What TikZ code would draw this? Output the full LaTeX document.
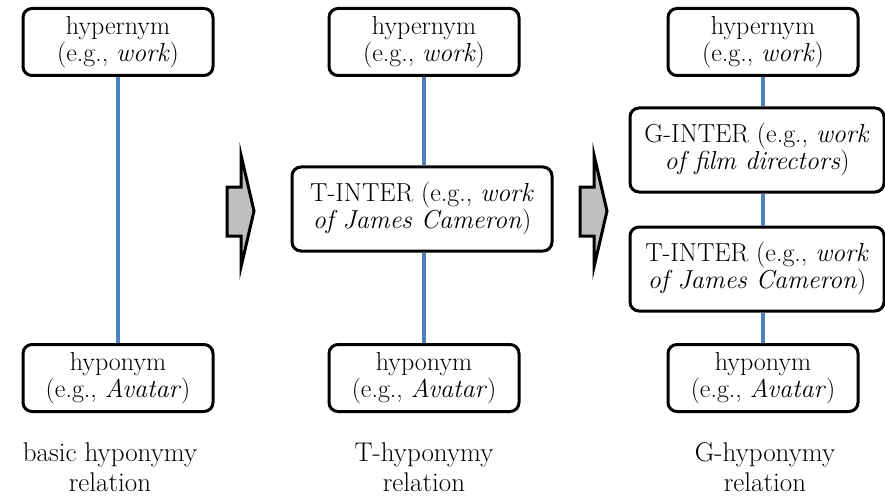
\documentclass[tikz,border=0pt]{standalone}
\usepackage{xcolor}
\usepackage{tikz}
\definecolor{linkblue}{RGB}{79, 129, 189}
\definecolor{arrowgray}{RGB}{191, 191, 191}

\tikzset{
  termbox/.style={draw, line width=3pt, rounded corners=9pt, fill=white,
    align=center, inner sep=0pt, minimum width=190pt, minimum height=67pt,
    font=\fontsize{26}{27}\selectfont},
  interbox/.style={termbox, minimum height=84pt},
  link/.style={linkblue, line width=3.2pt},
  caption/.style={align=center, font=\fontsize{27}{30}\selectfont}
}

\begin{document}
\begin{tikzpicture}[x=1pt, y=-1pt]
\useasboundingbox (0,0) rectangle (885,497);

% basic hyponymy
\node[termbox] (hyper1) at (118,42) {hypernym\\(e.g., \textit{work})};
\node[termbox] (hypo1) at (118,378) {hyponym\\(e.g., \textit{Avatar})};
\node[caption] (cap1) at (110,467) {basic hyponymy\\relation};
\draw[link] (hyper1) -- (hypo1);

% T-hyponymy
\node[termbox] (hyper2) at (424,42) {hypernym\\(e.g., \textit{work})};
\node[interbox, minimum width=260pt] (tinter2) at (422,209) {T-INTER (e.g., \textit{work}\\\textit{of James Cameron})};
\node[termbox] (hypo2) at (424,378) {hyponym\\(e.g., \textit{Avatar})};
\node[caption] (cap2) at (424,467) {T-hyponymy\\relation};
\draw[link] (hyper2) -- (hyper2 |- tinter2.north);
\draw[link] (hyper2 |- tinter2.south) -- (hypo2);

% G-hyponymy
\node[termbox] (hyper3) at (763,42) {hypernym\\(e.g., \textit{work})};
\node[interbox, minimum width=254pt] (ginter3) at (757,150) {G-INTER (e.g., \textit{work}\\\textit{of film directors})};
\node[interbox, minimum width=254pt] (tinter3) at (757,269) {T-INTER (e.g., \textit{work}\\\textit{of James Cameron})};
\node[termbox] (hypo3) at (763,378) {hyponym\\(e.g., \textit{Avatar})};
\node[caption] (cap3) at (765,467) {G-hyponymy\\relation};
\draw[link] (hyper3) -- (hyper3 |- ginter3.north);
\draw[link] (hyper3 |- ginter3.south) -- (hyper3 |- tinter3.north);
\draw[link] (hyper3 |- tinter3.south) -- (hypo3);

% block arrows between the steps
\foreach \ax in {227, 580} {
  \draw[fill=arrowgray, line width=3pt] (\ax,187) -- (\ax+14,187) -- (\ax+14,155)
    -- (\ax+27,211) -- (\ax+14,267) -- (\ax+14,236) -- (\ax,236) -- cycle;
}
\end{tikzpicture}
\end{document}
